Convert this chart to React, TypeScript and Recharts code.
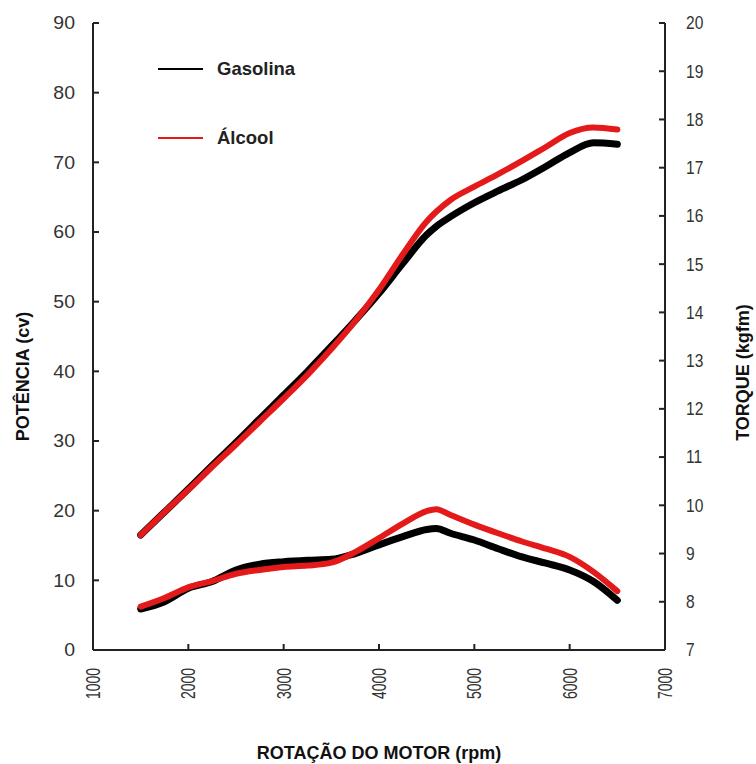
import React from "react";
import { ComposedChart, Line, XAxis, YAxis, Legend } from "recharts";

// rotação do motor (rpm)
const rpm = [1500, 1750, 2000, 2250, 2500, 2750, 3000, 3250, 3500, 3750, 4000, 4250, 4500, 4600, 4750, 5000, 5250, 5500, 5750, 6000, 6250, 6500];

// potência (cv) - eixo esquerdo
const potenciaGasolina = [16.5, 19.8, 23.1, 26.5, 29.8, 33.2, 36.6, 40.0, 43.6, 47.3, 51.2, 55.5, 59.6, 60.8, 62.2, 64.2, 65.9, 67.5, 69.4, 71.4, 72.8, 72.6];
const potenciaAlcool = [16.5, 19.8, 23.0, 26.3, 29.5, 32.8, 36.1, 39.5, 43.2, 47.2, 51.7, 56.8, 61.5, 62.9, 64.6, 66.5, 68.3, 70.2, 72.2, 74.2, 75.0, 74.7];

// torque (kgfm) - eixo direito
const torqueGasolina = [7.85, 8.0, 8.28, 8.42, 8.66, 8.78, 8.83, 8.86, 8.88, 9.0, 9.18, 9.35, 9.5, 9.52, 9.42, 9.28, 9.1, 8.93, 8.8, 8.66, 8.42, 8.03];
const torqueAlcool = [7.9, 8.08, 8.3, 8.43, 8.58, 8.66, 8.72, 8.75, 8.81, 9.03, 9.32, 9.62, 9.88, 9.92, 9.8, 9.6, 9.42, 9.25, 9.1, 8.93, 8.62, 8.22];

const rpmTicks = [1000, 2000, 3000, 4000, 5000, 6000, 7000];
const potenciaTicks = [0, 10, 20, 30, 40, 50, 60, 70, 80, 90];
const torqueTicks = [7, 8, 9, 10, 11, 12, 13, 14, 15, 16, 17, 18, 19, 20];

const legendItems = [
  { name: "Gasolina", color: "#000000" },
  { name: "Álcool", color: "#e41a1a" },
];

const data = rpm.map((r, i) => ({
  rpm: r,
  potGas: potenciaGasolina[i],
  potAlc: potenciaAlcool[i],
  torGas: torqueGasolina[i],
  torAlc: torqueAlcool[i],
}));

const FONT = '"Liberation Sans", Arial, sans-serif';
const AXIS = "#222";

const AxisTick = (props: any) => {
  const { x, y, payload, side, gap, fontSize, sx } = props;
  if (side === "bottom") {
    return (
      <g>
        <line x1={x} y1={y - gap} x2={x} y2={y - gap - 6} stroke={AXIS} strokeWidth={2} />
        <text
          transform={`translate(${x},${y}) scale(${sx},1) rotate(-90)`}
          textAnchor="end"
          dy="0.36em"
          fontSize={fontSize}
          fontFamily={FONT}
          fill="#333"
        >
          {payload.value}
        </text>
      </g>
    );
  }
  const dir = side === "left" ? 1 : -1;
  const axisX = x + dir * gap;
  return (
    <g>
      <line x1={axisX} y1={y} x2={axisX + dir * 6} y2={y} stroke={AXIS} strokeWidth={2} />
      <text
        transform={`translate(${x},${y}) scale(${sx},1)`}
        textAnchor={side === "left" ? "end" : "start"}
        dy="0.36em"
        fontSize={fontSize}
        fontFamily={FONT}
        fill="#333"
      >
        {payload.value}
      </text>
    </g>
  );
};

const yTitle = (text: string, dx: number, dy: number) => (props: any) => {
  const vb = props.viewBox;
  const cx = vb.x + dx;
  const cy = vb.y + vb.height / 2 + dy;
  return (
    <text
      transform={`translate(${cx},${cy}) rotate(-90)`}
      textAnchor="middle"
      dy="0.36em"
      fontSize={18}
      fontWeight="bold"
      fontFamily={FONT}
      fill="#111"
    >
      {text}
    </text>
  );
};

const xTitle = (props: any) => {
  const vb = props.viewBox;
  return (
    <text
      x={vb.x + vb.width / 2}
      y={vb.y + 109}
      textAnchor="middle"
      fontSize={18}
      fontWeight="bold"
      fontFamily={FONT}
      fill="#111"
    >
      ROTAÇÃO DO MOTOR (rpm)
    </text>
  );
};

const LegendBox = () => (
  <div style={{ fontFamily: FONT }}>
    {legendItems.map((item, i) => (
      <div
        key={item.name}
        style={{ display: "flex", alignItems: "center", height: 22, marginBottom: i === 0 ? 47 : 0 }}
      >
        <div style={{ width: 45, height: 2, background: item.color, marginRight: 14 }} />
        <span style={{ fontSize: 18.5, fontWeight: "bold", color: "#222" }}>{item.name}</span>
      </div>
    ))}
  </div>
);

export default function App() {
  return (
    <div style={{ position: "absolute", left: 0, top: 0, width: 756, height: 764, background: "#fff" }}>
      <ComposedChart width={756} height={764} data={data} margin={{ top: 23, right: 0, bottom: 0, left: 0 }}>
        <XAxis
          dataKey="rpm"
          type="number"
          domain={[1000, 7000]}
          ticks={rpmTicks}
          height={114}
          tickSize={0}
          tickMargin={18}
          tickLine={false}
          axisLine={{ stroke: AXIS, strokeWidth: 2 }}
          tick={(p: any) => <AxisTick {...p} side="bottom" gap={18} fontSize={14} sx={1.4} />}
          label={{ content: xTitle }}
        />
        <XAxis
          xAxisId="top"
          orientation="top"
          dataKey="rpm"
          type="number"
          domain={[1000, 7000]}
          height={0}
          tick={false}
          tickLine={false}
          axisLine={{ stroke: AXIS, strokeWidth: 2 }}
        />
        <YAxis
          yAxisId="left"
          domain={[0, 90]}
          ticks={potenciaTicks}
          width={93}
          tickSize={0}
          tickMargin={18}
          tickLine={false}
          axisLine={{ stroke: AXIS, strokeWidth: 2 }}
          tick={(p: any) => <AxisTick {...p} side="left" gap={18} fontSize={17.7} sx={1.1} />}
          label={{ content: yTitle("POTÊNCIA (cv)", 23, 40) }}
        />
        <YAxis
          yAxisId="right"
          orientation="right"
          domain={[7, 20]}
          ticks={torqueTicks}
          width={91}
          tickSize={0}
          tickMargin={21}
          tickLine={false}
          axisLine={{ stroke: AXIS, strokeWidth: 2 }}
          tick={(p: any) => <AxisTick {...p} side="right" gap={21} fontSize={17.7} sx={0.88} />}
          label={{ content: yTitle("TORQUE (kgfm)", 78, 36) }}
        />
        <Legend
          layout="vertical"
          align="center"
          verticalAlign="middle"
          content={LegendBox}
          wrapperStyle={{ left: 158, top: 58, width: 200, height: 100 }}
        />
        <Line yAxisId="left" type="monotone" dataKey="potGas" stroke="#000" strokeWidth={7} strokeLinecap="round" dot={false} isAnimationActive={false} />
        <Line yAxisId="left" type="monotone" dataKey="potAlc" stroke="#e41a1a" strokeWidth={6} strokeLinecap="round" dot={false} isAnimationActive={false} />
        <Line yAxisId="right" type="monotone" dataKey="torGas" stroke="#000" strokeWidth={7} strokeLinecap="round" dot={false} isAnimationActive={false} />
        <Line yAxisId="right" type="monotone" dataKey="torAlc" stroke="#e41a1a" strokeWidth={6} strokeLinecap="round" dot={false} isAnimationActive={false} />
      </ComposedChart>
    </div>
  );
}
